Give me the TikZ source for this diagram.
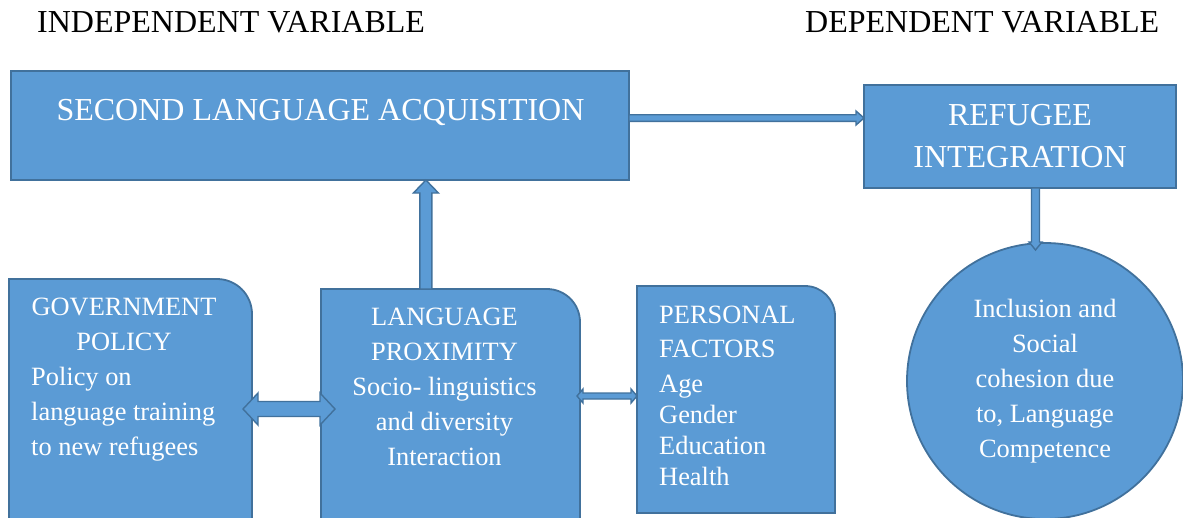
\documentclass[tikz,border=0pt]{standalone}
\usepackage{fontspec}
\setmainfont{Liberation Serif}
\usetikzlibrary{calc}
\definecolor{boxfill}{RGB}{91,155,213}
\definecolor{boxline}{RGB}{65,113,156}
\tikzset{
  shapefill/.style={fill=boxfill, draw=boxline, line width=1.8pt},
  arrowfill/.style={fill=boxfill, draw=boxline, line width=1.4pt, line join=miter},
  frame/.style={rectangle, draw=none, inner sep=0pt, outer sep=0pt, anchor=north west},
  headtext/.style={font=\fontsize{32}{42}\selectfont, inner sep=0pt},
  boxtext/.style={font=\fontsize{26.4}{35}\selectfont, inner sep=0pt, text=white},
}
% box with a single rounded top-right corner
\newcommand{\tabbox}[2]{%
  \filldraw[shapefill] (#1.south west) -- (#1.north west) -- ([xshift=-#2]#1.north east)
    arc[start angle=90, end angle=0, radius=#2] -- (#1.south east) -- cycle;}
% block arrow: tail, tip, head length, shaft half width, head half width
\newcommand{\onearrow}[5]{%
  \coordinate (hb) at ($(#2)!#3!(#1)$);
  \filldraw[arrowfill] ($(#1)!#4!90:(#2)$) -- ($(hb)!#4!90:(#2)$) -- ($(hb)!#5!90:(#2)$)
    -- (#2) -- ($(hb)!#5!-90:(#2)$) -- ($(hb)!#4!-90:(#2)$) -- ($(#1)!#4!-90:(#2)$) -- cycle;}
% double-headed block arrow between two tips
\newcommand{\twoarrow}[5]{%
  \coordinate (ha) at ($(#1)!#3!(#2)$);
  \coordinate (hb) at ($(#2)!#3!(#1)$);
  \filldraw[arrowfill] (#1) -- ($(ha)!#5!90:(#2)$) -- ($(ha)!#4!90:(#2)$) -- ($(hb)!#4!90:(#2)$)
    -- ($(hb)!#5!90:(#2)$) -- (#2) -- ($(hb)!#5!-90:(#2)$) -- ($(hb)!#4!-90:(#2)$)
    -- ($(ha)!#4!-90:(#2)$) -- ($(ha)!#5!-90:(#2)$) -- cycle;}

\begin{document}
\begin{tikzpicture}[x=1pt, y=-1pt]
\useasboundingbox (0,0) rectangle (1183,517);
\clip (0,0) rectangle (1183,517);

% headings
\node[headtext, anchor=base west] (indep) at (37,32) {INDEPENDENT VARIABLE};
\node[headtext, anchor=base west] (dep) at (805,32) {DEPENDENT VARIABLE};

% top row
\node[frame, shapefill, minimum width=618pt, minimum height=109pt] (sla) at (11,71) {};
\node[frame, shapefill, minimum width=312pt, minimum height=103pt, anchor=center,
      headtext, text=white, align=center] (ref) at (1020,136.5) {REFUGEE\\INTEGRATION};

% bottom row frames
\node[frame, minimum width=243pt, minimum height=260pt] (gov) at (9,279) {};
\node[frame, minimum width=259pt, minimum height=240pt] (lp) at (321,289) {};
\node[frame, minimum width=198pt, minimum height=227pt] (pf) at (637,286) {};
\tabbox{gov}{35pt}
\tabbox{lp}{33pt}
\tabbox{pf}{30pt}

\node[circle, shapefill, minimum size=276pt, inner sep=0pt, outer sep=0pt,
      boxtext, align=center] (circ) at (1045,381)
      {Inclusion and\\Social\\cohesion due\\to, Language\\Competence};

% connectors
\coordinate (u1) at ($(lp.north west)!0.405!(lp.north east)$);
\coordinate (u2) at (u1 |- sla.south);
\onearrow{u1}{u2}{13pt}{6pt}{12.5pt}

\coordinate (s1) at ([yshift=7.5pt]sla.east);
\coordinate (s2) at (s1 -| ref.west);
\onearrow{s1}{s2}{8pt}{3.3pt}{7pt}

\coordinate (r1) at ([xshift=15.5pt]ref.south);
\coordinate (r2) at ($(r1 |- circ.north)+(0,7)$);
\onearrow{r1}{r2}{8pt}{4pt}{6.5pt}

\coordinate (g1) at ([xshift=-9pt]gov.east);
\coordinate (g2) at ([xshift=14pt]lp.west);
\twoarrow{g1}{g2}{15pt}{7.5pt}{16pt}

\coordinate (p1) at ([xshift=-3pt, yshift=13pt]lp.east);
\coordinate (p2) at (p1 -| pf.west);
\twoarrow{p1}{p2}{6pt}{3pt}{7pt}

% box texts
\node[headtext, text=white, anchor=base] (slatext) at (320.5,120) {SECOND LANGUAGE ACQUISITION};
\node[boxtext, anchor=north, align=center] (govtitle) at (124,290.5) {\strut GOVERNMENT\\POLICY};
\node[boxtext, anchor=north west, align=left] (govbody) at (31,360.5)
  {\strut Policy on\\language training\\to new refugees};
\node[boxtext, anchor=north, align=center] (lptext) at (444.5,300.5)
  {\strut LANGUAGE\\PROXIMITY\\Socio- linguistics\\and diversity\\Interaction};
\node[boxtext, anchor=north west, align=left] (pftext) at (659,298.5)
  {\strut PERSONAL\\[-1pt]FACTORS\\Age\\[-4pt]Gender\\[-4pt]Education\\[-4pt]Health};
\end{tikzpicture}
\end{document}
